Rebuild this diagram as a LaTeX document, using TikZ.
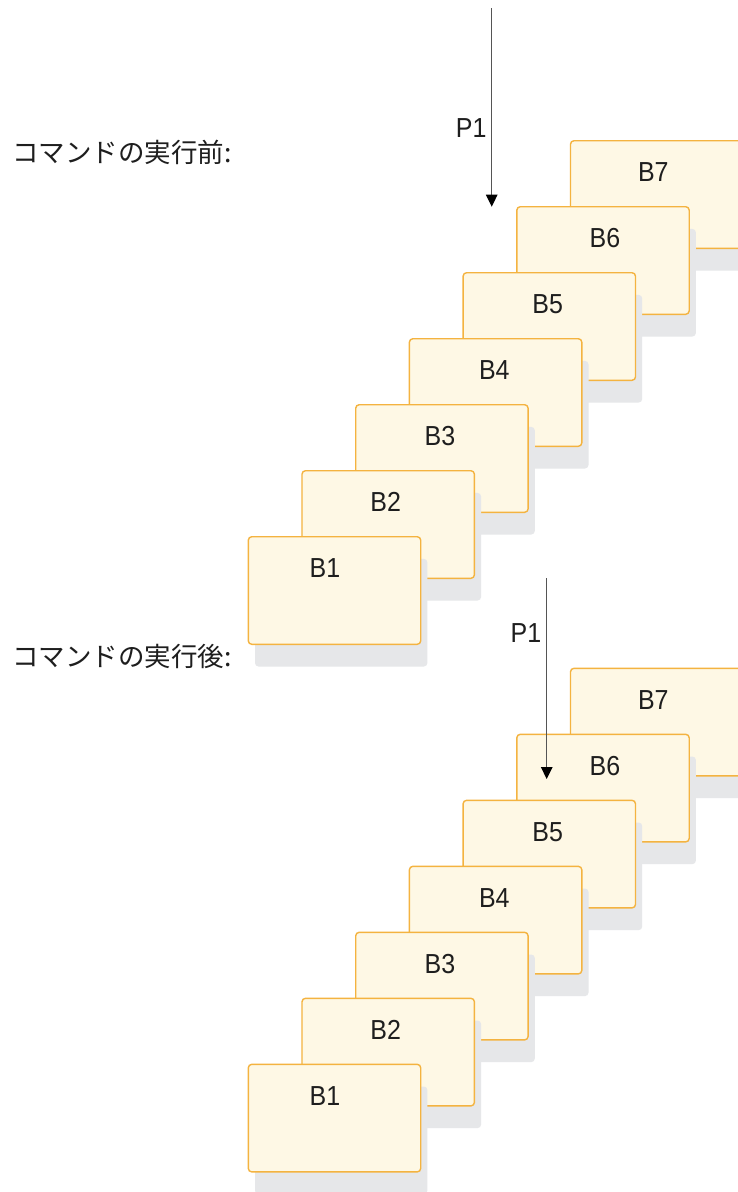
\documentclass[tikz,border=0pt]{standalone}
\usepackage{fontspec}
\setmainfont{Liberation Sans}
\newfontfamily\jpfont{Noto Sans CJK JP}
\usetikzlibrary{arrows.meta}
\definecolor{boxfill}{HTML}{FEF8E5}
\definecolor{boxline}{HTML}{F4B340}
\definecolor{shadowc}{HTML}{E6E7E9}
\definecolor{txt}{HTML}{1E1E1E}
\definecolor{arrowc}{HTML}{555555}
\newcommand{\tallish}[1]{\scalebox{1}[1.1]{#1}}
\begin{document}
\begin{tikzpicture}[x=1pt,y=-1pt,
  blk/.style={draw=boxline, fill=boxfill, line width=1.4pt, rounded corners=3.5pt,
    minimum width=172.4pt, minimum height=107.6pt, inner sep=0pt, outer sep=0pt, anchor=north west},
  shd/.style={fill=shadowc, rounded corners=3.5pt},
  lbl/.style={font=\fontsize{25}{30}\selectfont, text=txt, inner sep=0pt},
  jp/.style={font=\jpfont\fontsize{26.5}{32}\selectfont, text=txt, inner sep=0pt, anchor=west},
  arr/.style={draw=arrowc, line width=1.3pt, -{Triangle[length=12pt,width=11.5pt,color=black]}}
]
\useasboundingbox (0,0) rectangle (738,1192);
\clip (0,0) rectangle (738,1192);
\fill[white] (0,0) rectangle (738,1192);

\foreach \s/\dy in {a/0,b/527.6}{
  \foreach \k/\lx in {7/653.3,6/605,5/547.7,4/494.3,3/440,2/385.7,1/325}{
    \pgfmathsetmacro{\L}{248.3+53.7*(\k-1)}
    \pgfmathsetmacro{\T}{536.7-66*(\k-1)+\dy}
    \fill[shd] (\L+6.7,\T+22.2) rectangle ++(172.4,107.6);
    \node[blk] (box\s\k) at (\L,\T) {};
    \node[lbl] (lab\s\k) at (\lx,\T+31.5) {\tallish{B\k}};
  }
}

% before
\node[jp] (before) at (12,152) {コマンドの実行前:};
\coordinate (p1as) at (491.7,8.3);
\coordinate (p1ae) at (491.7,206.7);
\draw[arr] (p1as) -- (p1ae);
\node[lbl, anchor=east] (p1a) at (486.7,128) {\tallish{P1}};

% after
\node[jp] (after) at (12,656.7) {コマンドの実行後:};
\coordinate (p1bs) at (546.7,578.3);
\coordinate (p1be) at (546.7,779);
\draw[arr] (p1bs) -- (p1be);
\node[lbl, anchor=east] (p1b) at (541.5,633) {\tallish{P1}};
\end{tikzpicture}
\end{document}
